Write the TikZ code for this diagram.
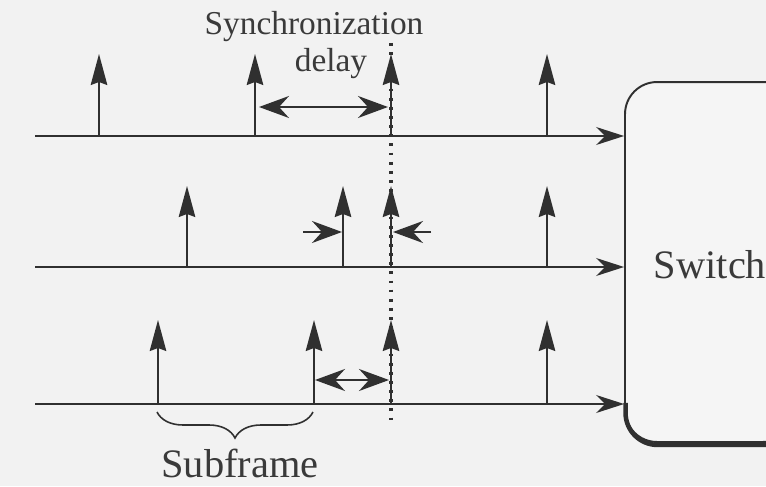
\documentclass[tikz,border=0pt]{standalone}
\usepackage{fontspec}
\setmainfont{Liberation Serif}
\usetikzlibrary{
arrows.meta,
positioning,
decorations.pathreplacing
}
\definecolor{SDInk}{HTML}{303030}
\definecolor{SDText}{HTML}{3A3A3A}
\definecolor{SDPaper}{HTML}{F2F2F2}
\definecolor{SDBox}{HTML}{F5F5F5}
\tikzset{
sdline/.style={line width=1.1pt, draw=SDInk},
sdtimeline/.style={sdline, -{Stealth[length=5.6mm, width=3.6mm, inset=1.8mm]}},
sdpulse/.style={sdline, -{Stealth[length=6.2mm, width=3.3mm, inset=0.6mm]}},
sddelay/.style={sdline, {Stealth[length=6mm, width=4.4mm, inset=2mm]}-{Stealth[length=6mm, width=4.4mm, inset=2mm]}},
sdsqueeze/.style={sdline, -{Stealth[length=6mm, width=4.4mm, inset=2mm]}},
sdsync/.style={draw=SDInk, line width=1.9pt, dash pattern=on 1.6pt off 3.6pt},
sdbrace/.style={draw=SDInk, line width=0.9pt, decorate, decoration={brace, mirror, amplitude=5.2mm}},
sdlabel/.style={text=SDText, inner sep=0pt, anchor=base},
sdswitch/.style={draw=SDInk, line width=1.1pt, fill=SDBox, rounded corners=6.4mm,
  minimum width=3.4cm, minimum height=7.2cm, inner sep=0pt},
sdshadow/.style={draw=SDInk, line width=2.6pt, rounded corners=6.4mm}
}

\begin{document}
\begin{tikzpicture}[x=0.02cm, y=-0.02cm]
\path[fill=SDPaper, use as bounding box] (0,0) rectangle (766,486);
\clip (0,0) rectangle (766,486);

% switch
\node[sdswitch] (sw) at (710,262) {};
\draw[sdshadow] ([xshift=0.3mm, yshift=0.8cm]sw.south west) -- ([xshift=0.3mm, yshift=-0.4mm]sw.south west) -- ([yshift=-0.4mm]sw.south east);
\node[sdlabel, font=\fontsize{23}{26}\selectfont] (swtext) at (710,278) {Switch};

% three input lines
\coordinate (in1) at (35,136);
\coordinate (in2) at (35,267);
\coordinate (in3) at (35,404);
\draw[sdtimeline] (in1) -- (sw.west |- in1);
\draw[sdtimeline] (in2) -- (sw.west |- in2);
\draw[sdtimeline] (in3) -- (sw.west |- in3);

% reference instant
\coordinate (synctop) at (391,43);
\coordinate (syncbot) at (391,425);
\draw[sdsync] (synctop) -- (syncbot);

% subframe boundaries
\foreach \x in {99,255,391,547} \draw[sdpulse] (\x,136) -- ++(0,-82);
\foreach \x in {187,343,391,547} \draw[sdpulse] (\x,267) -- ++(0,-81);
\foreach \x in {158,314,391,547} \draw[sdpulse] (\x,404) -- ++(0,-84);

% offsets
\coordinate (d1a) at (259,107);
\coordinate (d1b) at (388,107);
\draw[sddelay] (d1a) -- (d1b);
\coordinate (d2a) at (303,232);
\coordinate (d2b) at (342,232);
\coordinate (d2c) at (431,232);
\coordinate (d2d) at (393,232);
\draw[sdsqueeze] (d2a) -- (d2b);
\draw[sdsqueeze] (d2c) -- (d2d);
\coordinate (d3a) at (315,380);
\coordinate (d3b) at (389,380);
\draw[sddelay] (d3a) -- (d3b);

\node[sdlabel, font=\fontsize{19}{22}\selectfont] (synctxt) at (314,35) {Synchronization};
\node[sdlabel, font=\fontsize{19}{22}\selectfont] (delaytxt) at (331,72) {delay};

% subframe brace
\coordinate (br1) at (157,412);
\coordinate (br2) at (313,412);
\draw[sdbrace] (br1) -- (br2);
\node[sdlabel, font=\fontsize{23}{26}\selectfont] (subtxt) at (240,477) {Subframe};
\end{tikzpicture}
\end{document}
